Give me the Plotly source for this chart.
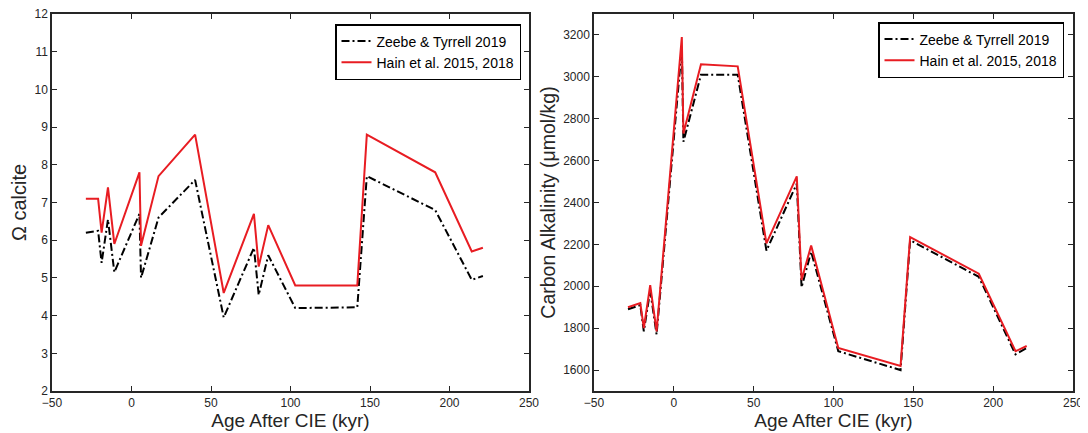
import plotly.graph_objects as go

# Data
age = [-28.7, -21, -18.8, -14.8, -10.8, 5, 6, 17, 40, 58, 77, 80, 86, 103, 142, 148, 191, 214, 221]

omega_zeebe = [6.2, 6.25, 5.4, 6.55, 5.15, 6.7, 5.0, 6.6, 7.6, 3.95, 5.8, 4.55, 5.6, 4.2, 4.22, 7.7, 6.8, 4.95, 5.05]
omega_hain = [7.1, 7.1, 6.2, 7.4, 5.9, 7.8, 5.85, 7.7, 8.8, 4.6, 6.7, 5.3, 6.4, 4.8, 4.8, 8.8, 7.8, 5.7, 5.8]

alk_zeebe = [1890, 1910, 1785, 1980, 1770, 3140, 2690, 3010, 3010, 2170, 2490, 1995, 2165, 1690, 1600, 2220, 2045, 1675, 1705]
alk_hain = [1900, 1920, 1800, 2005, 1785, 3190, 2730, 3060, 3050, 2205, 2525, 2030, 2195, 1705, 1620, 2235, 2060, 1690, 1715]

omega_ticks = [2, 3, 4, 5, 6, 7, 8, 9, 10, 11, 12]
alk_ticks = [1600, 1800, 2000, 2200, 2400, 2600, 2800, 3000, 3200]
age_ticks = [-50, 0, 50, 100, 150, 200, 250]

name_zeebe = "Zeebe & Tyrrell 2019"
name_hain = "Hain et al. 2015, 2018"

# The page body has an 8px margin, so the figure is drawn 8px in from the window corner.
OFF = 8
W, H = 1088 - OFF, 433 - OFF
ML, MR, MT, MB = 52 - OFF, W - (1073 - OFF), 14 - OFF, H - (391 - OFF)
PW = W - ML - MR
PH = H - MT - MB
FONT = "Liberation Sans, Arial, Helvetica, sans-serif"
AX = "#262626"
RED = "rgb(232,28,34)"
DASH = "8px,3px,2px,3px"


def px_x(page_x):
    return (page_x - OFF - ML) / PW


def px_y(page_y):
    return 1 - (page_y - OFF - MT) / PH


fig = go.Figure()

fig.add_trace(go.Scatter(x=age, y=omega_zeebe, mode="lines", name=name_zeebe,
                         line=dict(color="black", width=2, dash=DASH),
                         xaxis="x", yaxis="y", legend="legend"))
fig.add_trace(go.Scatter(x=age, y=omega_hain, mode="lines", name=name_hain,
                         line=dict(color=RED, width=2),
                         xaxis="x", yaxis="y", legend="legend"))
fig.add_trace(go.Scatter(x=age, y=alk_zeebe, mode="lines", name=name_zeebe,
                         line=dict(color="black", width=2, dash=DASH),
                         xaxis="x2", yaxis="y2", legend="legend2"))
fig.add_trace(go.Scatter(x=age, y=alk_hain, mode="lines", name=name_hain,
                         line=dict(color=RED, width=2),
                         xaxis="x2", yaxis="y2", legend="legend2"))

axcommon = dict(showline=True, linecolor=AX, linewidth=1.5, mirror="ticks",
                ticks="inside", ticklen=5, tickwidth=1.2, tickcolor=AX,
                showgrid=False, zeroline=False, automargin=False,
                tickmode="array", ticklabeloverflow="allow",
                tickfont=dict(family=FONT, size=12, color=AX))
xtitle = dict(text="Age After CIE (kyr)", font=dict(family=FONT, size=19, color=AX), standoff=1)

fig.update_layout(
    width=W, height=H,
    margin=dict(l=ML, r=MR, t=MT, b=MB, autoexpand=False),
    paper_bgcolor="white", plot_bgcolor="white",
    font=dict(family=FONT, color=AX),
    xaxis=dict(domain=[0, px_x(529)], range=[-50, 250], tickvals=age_ticks, anchor="y",
               title=xtitle, **axcommon),
    yaxis=dict(domain=[0, 1], range=[2, 12.0001], tickvals=omega_ticks, anchor="x",
               title=dict(text="Ω calcite", font=dict(family=FONT, size=20, color=AX), standoff=2),
               **axcommon),
    xaxis2=dict(domain=[px_x(594), 1], range=[-50, 250], tickvals=age_ticks, anchor="y2",
                title=xtitle, **axcommon),
    yaxis2=dict(domain=[0, 1], range=[1500, 3300], tickvals=alk_ticks, anchor="x2",
                title=dict(text="Carbon Alkalinity (μmol/kg)", font=dict(family=FONT, size=19.5, color=AX), standoff=2),
                **axcommon),
    legend=dict(x=px_x(521), y=px_y(24), xanchor="right", yanchor="top",
                bgcolor="white", bordercolor="black", borderwidth=1.5,
                font=dict(family=FONT, size=14, color="black"),
                tracegroupgap=0, itemwidth=30),
    legend2=dict(x=px_x(1064), y=px_y(22), xanchor="right", yanchor="top",
                 bgcolor="white", bordercolor="black", borderwidth=1.5,
                 font=dict(family=FONT, size=14, color="black"),
                 tracegroupgap=0, itemwidth=30),
    showlegend=True,
)

fig.write_html("out.html")
